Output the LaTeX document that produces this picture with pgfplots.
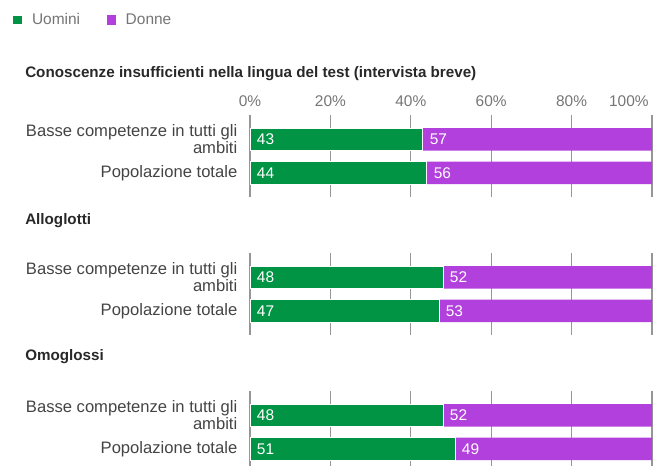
\documentclass[border=0pt]{standalone}
\usepackage{pgfplots}
\pgfplotsset{compat=1.18}
\usepackage{pgfplotstable}
\usepackage{fontspec}
\setmainfont{Liberation Sans}

\definecolor{uomini}{RGB}{0,148,68}
\definecolor{donne}{RGB}{178,64,220}
\definecolor{gridc}{RGB}{150,150,150}
\definecolor{labc}{RGB}{68,68,68}
\definecolor{tickc}{RGB}{117,117,117}
\definecolor{titc}{RGB}{40,40,40}

% row 0 = Basse competenze, row 1 = Popolazione totale; t = u + d
\pgfplotstableread{
row z u d t
0 0 43 57 100
1 0 44 56 100
}\tabA
\pgfplotstableread{
row z u d t
0 0 48 52 100
1 0 47 53 100
}\tabB
\pgfplotstableread{
row z u d t
0 0 48 52 100
1 0 51 49 100
}\tabC

\newcommand{\fnt}{\fontsize{12.45}{12.75}\selectfont}
\newcommand{\vfnt}{\fontsize{11.6}{13}\selectfont}

\pgfplotsset{
  grp/.style={
    xbar, bar width=16.9pt, bar shift=0pt,
    width=301.5pt, height=61.8pt, scale only axis,
    xmin=0, xmax=100, ymin=-0.73, ymax=1.73, y dir=reverse,
    axis line style={draw=none}, major tick length=0pt,
    xtick={0,20,...,80}, xmajorgrids,
    extra x ticks={100},
    major grid style={gridc, line width=0.9pt},
    ytick={0,1},
    yticklabels={{Basse competenze in tutti gli\\ambiti},{Popolazione totale}},
    yticklabel style={align=right, font=\fnt, text=labc, xshift=-6pt},
    xticklabel pos=upper,
    xticklabel style={font=\vfnt, text=tickc, yshift=3pt},
    /pgf/number format/assume math mode=true,
    xticklabel={\pgfmathprintnumber{\tick}\%},
    clip=false,
  },
  lbl/.style={
    draw=none, fill=none, forget plot,
    nodes near coords, point meta=explicit,
    every node near coord/.append style={anchor=west, text=white,
      font=\vfnt, xshift=5pt, inner sep=0pt},
  },
}

\begin{document}
\begin{tikzpicture}
\useasboundingbox (0,-349.5pt) rectangle (491.25pt,0);

\node[anchor=west, inner sep=0pt, text=titc, font=\bfseries\fontsize{11.4}{13}\selectfont]
  at (18.75pt,-55.5pt) {Conoscenze insufficienti nella lingua del test (intervista breve)};
\node[anchor=west, inner sep=0pt, text=titc, font=\bfseries\fontsize{11.4}{13}\selectfont]
  at (18.75pt,-165.75pt) {Alloglotti};
\node[anchor=west, inner sep=0pt, text=titc, font=\bfseries\fontsize{11.4}{13}\selectfont]
  at (18.75pt,-267.75pt) {Omoglossi};

\begin{axis}[grp, at={(187.5pt,-86.25pt)}, anchor=north west,
    extra x tick style={xticklabel style={anchor=south east, xshift=1pt}},
    reverse legend,
    legend style={at={(axis description cs:-0.592,2.153)}, anchor=west,
      draw=none, fill=none, inner sep=0pt, legend columns=-1,
      font=\vfnt, text=tickc,
      /tikz/every odd column/.append style={column sep=5pt},
      /tikz/every even column/.append style={column sep=18pt}},
    legend image code/.code={\fill[#1] (0pt,-3.6pt) rectangle (7.2pt,3.6pt);}]
  \addplot[fill=donne, draw=none] table[x=t, y=row]{\tabA};
  \addplot[fill=uomini, draw=white, line width=0.6pt] table[x=u, y=row]{\tabA};
  \addplot[lbl] table[x=z, y=row, meta=u]{\tabA};
  \addplot[lbl] table[x=u, y=row, meta=d]{\tabA};
  \legend{Donne, Uomini}
\end{axis}

\begin{axis}[grp, at={(187.5pt,-189.75pt)}, anchor=north west,
    xticklabels={}, extra x tick labels={}]
  \addplot[fill=donne, draw=none] table[x=t, y=row]{\tabB};
  \addplot[fill=uomini, draw=white, line width=0.6pt] table[x=u, y=row]{\tabB};
  \addplot[lbl] table[x=z, y=row, meta=u]{\tabB};
  \addplot[lbl] table[x=u, y=row, meta=d]{\tabB};
\end{axis}

\begin{axis}[grp, at={(187.5pt,-293.25pt)}, anchor=north west,
    xticklabels={}, extra x tick labels={}]
  \addplot[fill=donne, draw=none] table[x=t, y=row]{\tabC};
  \addplot[fill=uomini, draw=white, line width=0.6pt] table[x=u, y=row]{\tabC};
  \addplot[lbl] table[x=z, y=row, meta=u]{\tabC};
  \addplot[lbl] table[x=u, y=row, meta=d]{\tabC};
\end{axis}
\end{tikzpicture}
\end{document}
